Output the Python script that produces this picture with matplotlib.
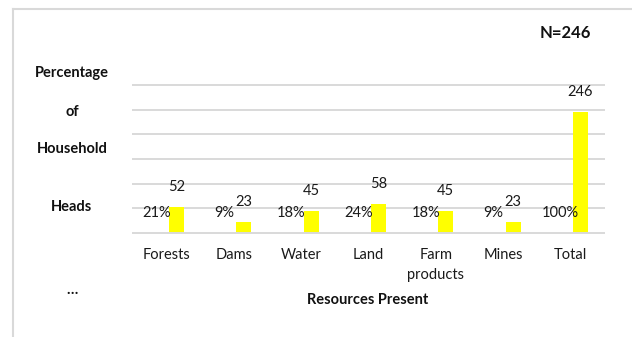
import matplotlib
matplotlib.use("Agg")
import matplotlib.pyplot as plt
from matplotlib.lines import Line2D
import numpy as np

plt.rcParams['font.family'] = ['Lato', 'DejaVu Sans']

# Resources reported by household heads
categories = ["Forests", "Dams", "Water", "Land", "Farm\nproducts", "Mines", "Total"]
counts = [52, 23, 45, 58, 45, 23, 246]
shares = [0.21, 0.09, 0.18, 0.24, 0.18, 0.09, 1.00]
share_labels = ["21%", "9%", "18%", "24%", "18%", "9%", "100%"]
y_title_lines = ["Percentage", "of", "Household", "Heads", "…"]

W, H = 632, 337
DPI = 100
fig = plt.figure(figsize=(W / DPI, H / DPI), dpi=DPI)
fig.patch.set_facecolor("white")

def fx(px):
    return px / W

def fy(py):
    return 1 - py / H

# plot area
left, right, top, base = 133, 604, 85, 233
ax = fig.add_axes([fx(left), fy(base), fx(right) - fx(left), fy(top) - fy(base)])
ax.set_xlim(-0.5, len(categories) - 0.5)
ax.set_ylim(0, 300)

grid_c = "#d9d9d9"
for v in range(50, 301, 50):
    ax.axhline(v, color=grid_c, lw=1.4, zorder=0, clip_on=False)

x = np.arange(len(categories))
bw = 0.223
off = 0.149
ax.bar(x - off, shares, width=bw, color="#ffff00", zorder=2)
ax.bar(x + off, counts, width=bw, color="#ffff00", zorder=2)

lab_off = 20 * 72 / DPI
lab_fs = 10.5
for xi, c in zip(x, counts):
    ax.annotate(str(c), xy=(xi + off, c), xytext=(0, lab_off),
                textcoords="offset points", ha="center", va="center",
                fontsize=lab_fs, color="#1a1a1a")
for xi, s, t in zip(x, shares, share_labels):
    ax.annotate(t, xy=(xi - off, s), xytext=(0, lab_off),
                textcoords="offset points", ha="center", va="center",
                fontsize=lab_fs, color="#1a1a1a")

for sp in ["left", "right", "top"]:
    ax.spines[sp].set_visible(False)
ax.spines["bottom"].set_color(grid_c)
ax.spines["bottom"].set_linewidth(1.4)
ax.set_yticks([])
ax.set_xticks(x)
ax.set_xticklabels(categories, fontsize=lab_fs, color="#1a1a1a", linespacing=1.5)
ax.tick_params(axis="x", length=0, pad=11)
ax.set_facecolor("none")

# titles
fig.text(fx(368), fy(300), "Resources Present", ha="center", va="center",
         fontsize=10.5, fontweight="bold", color="#111111")
fig.text(fx(565), fy(33), "N=246", ha="center", va="center",
         fontsize=12, fontweight="bold", color="#111111")
for txt, py in zip(y_title_lines, [73, 112, 149, 207, 290]):
    fig.text(fx(72), fy(py), txt, ha="center", va="center",
             fontsize=10.5, fontweight="bold", color="#111111")

# chart frame
fig.add_artist(Line2D([fx(13), fx(13)], [fy(9), 0], color=grid_c, lw=1.5,
                      transform=fig.transFigure))
fig.add_artist(Line2D([fx(13), 1], [fy(9), fy(9)], color=grid_c, lw=1.5,
                      transform=fig.transFigure))

fig.savefig("out.png", dpi=DPI)
